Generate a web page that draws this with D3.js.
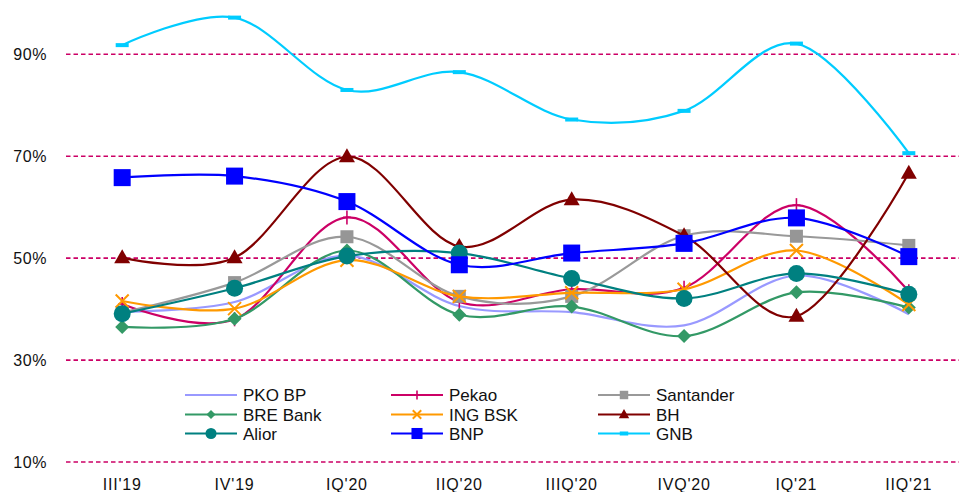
<!DOCTYPE html>
<html>
<head>
<meta charset="utf-8">
<script src="https://cdn.jsdelivr.net/npm/d3@7"></script>
<style>
  body { margin: 0; background: #fff; }
  text { font-family: "Liberation Sans", Arial, sans-serif; fill: #111; }
</style>
</head>
<body>
<div class="chart"></div>
<script>
// Data (percent)
const categories = ["III'19", "IV'19", "IQ'20", "IIQ'20", "IIIQ'20", "IVQ'20", "IQ'21", "IIQ'21"];
const yTicks = [10, 30, 50, 70, 90];

const pkoBP     = [39.5, 41.4, 50.5, 40.6, 39.4, 36.8, 46.6, 39.0];
const pekao     = [41.0, 38.0, 58.0, 41.4, 43.9, 44.2, 60.4, 43.5];
const santander = [39.3, 45.2, 54.2, 42.5, 42.5, 54.4, 54.3, 52.5];
const breBank   = [36.5, 38.1, 51.5, 38.9, 40.5, 34.7, 43.3, 40.3];
const ingBSK    = [41.6, 40.1, 49.6, 42.5, 43.2, 43.9, 51.5, 40.9];
const bh        = [50.1, 50.1, 69.9, 52.3, 61.5, 54.4, 38.6, 66.7];
const alior     = [39.1, 44.1, 50.4, 51.0, 46.0, 42.1, 47.0, 42.9];
const bnp       = [65.8, 66.1, 61.1, 48.7, 51.0, 52.9, 57.9, 50.3];
const gnb       = [91.8, 97.2, 83.0, 86.5, 77.2, 78.9, 92.1, 70.6];

const seriesNames = ["PKO BP", "Pekao", "Santander", "BRE Bank", "ING BSK", "BH", "Alior", "BNP", "GNB"];
const seriesValues = [pkoBP, pekao, santander, breBank, ingBSK, bh, alior, bnp, gnb];
const seriesColors = ["#9999ff", "#cc0066", "#999999", "#339966", "#ff9900", "#800000", "#008080", "#0000ff", "#00ccff"];
const seriesMarkers = ["none", "plus", "square", "diamond", "cross", "triangle", "circle", "bigsquare", "dash"];

const W = 959, H = 492;

const svg = d3.select('.chart')
    .append('svg')
        .attr('width', W)
        .attr('height', H);

// Scales
const x = d3.scalePoint()
    .domain(categories)
    .range([66, 965])
    .padding(0.5);
const y = d3.scaleLinear()
    .domain([10, 90])
    .range([462, 54.3]);

// Gridlines
svg.append('g')
    .selectAll('line')
    .data(yTicks)
    .enter()
        .append('line')
        .attr('x1', 66)
        .attr('x2', 965)
        .attr('y1', d => y(d))
        .attr('y2', d => y(d))
        .attr('stroke', '#cc0066')
        .attr('stroke-width', 1.6)
        .attr('stroke-dasharray', '4.5,3');

// Y axis labels
svg.append('g')
    .selectAll('text')
    .data(yTicks)
    .enter()
        .append('text')
        .attr('x', 47)
        .attr('y', d => y(d) + 6)
        .attr('text-anchor', 'end')
        .style('font-size', '16px')
        .style('letter-spacing', '0.6px')
        .text(d => d + '%');

// X axis labels
svg.append('g')
    .selectAll('text')
    .data(categories)
    .enter()
        .append('text')
        .attr('x', d => x(d))
        .attr('y', 489.5)
        .attr('text-anchor', 'middle')
        .style('font-size', '16px')
        .style('letter-spacing', '0.8px')
        .text(d => d);

// Marker drawing helper
function drawMarker(g, type, color, s) {
    if (type === 'plus') {
        g.append('line').attr('x1', 0).attr('x2', 0).attr('y1', -7 * s).attr('y2', 7 * s)
            .attr('stroke', color).attr('stroke-width', 1.6);
        g.append('line').attr('x1', -4 * s).attr('x2', 4 * s).attr('y1', 0).attr('y2', 0)
            .attr('stroke', color).attr('stroke-width', 1.6);
    } else if (type === 'square') {
        g.append('rect').attr('x', -6.5 * s).attr('y', -6.5 * s)
            .attr('width', 13 * s).attr('height', 13 * s).attr('fill', '#969696');
    } else if (type === 'bigsquare') {
        g.append('rect').attr('x', -8.5 * s).attr('y', -8.5 * s)
            .attr('width', 17 * s).attr('height', 17 * s).attr('fill', color);
    } else if (type === 'diamond') {
        const r = 7 * s;
        g.append('path').attr('d', `M0,${-r}L${r},0L0,${r}L${-r},0Z`).attr('fill', color);
    } else if (type === 'cross') {
        const r = 6.5 * s;
        g.append('path').attr('d', `M${-r},${-r}L${r},${r}M${-r},${r}L${r},${-r}`)
            .attr('stroke', color).attr('stroke-width', 2);
    } else if (type === 'triangle') {
        const w = 8 * s, h = 14 * s;
        g.append('path').attr('d', `M0,${-h * 0.6}L${w},${h * 0.4}L${-w},${h * 0.4}Z`).attr('fill', color);
    } else if (type === 'circle') {
        g.append('circle').attr('r', 8.5 * s).attr('fill', color);
    } else if (type === 'dash') {
        g.append('rect').attr('x', -6.5 * s).attr('y', -2)
            .attr('width', 13 * s).attr('height', 4).attr('fill', color);
    }
}

// Lines (smoothed like the original)
const line = d3.line()
    .x((d, i) => x(categories[i]))
    .y(d => y(d))
    .curve(d3.curveCardinal.tension(0));

seriesValues.forEach((vals, k) => {
    const g = svg.append('g');
    g.append('path')
        .attr('d', line(vals))
        .attr('fill', 'none')
        .attr('stroke', seriesColors[k])
        .attr('stroke-width', 2.2);
    vals.forEach((v, i) => {
        const m = g.append('g')
            .attr('transform', `translate(${x(categories[i])}, ${y(v)})`);
        drawMarker(m, seriesMarkers[k], seriesColors[k], 1);
    });
});

// Legend
const legendCols = [185, 391, 598];
const legendRows = [395, 414.5, 433.5];
seriesNames.forEach((name, k) => {
    const lx = legendCols[k % 3];
    const ly = legendRows[Math.floor(k / 3)];
    const g = svg.append('g').attr('transform', `translate(${lx}, ${ly})`);
    g.append('line')
        .attr('x1', 0).attr('x2', 52)
        .attr('y1', 0).attr('y2', 0)
        .attr('stroke', seriesColors[k])
        .attr('stroke-width', 2.2);
    const m = g.append('g').attr('transform', 'translate(26, 0)');
    drawMarker(m, seriesMarkers[k], seriesColors[k], 0.65);
    g.append('text')
        .attr('x', 58)
        .attr('y', 6.2)
        .style('font-size', '17px')
        .text(name);
});
</script>
</body>
</html>
